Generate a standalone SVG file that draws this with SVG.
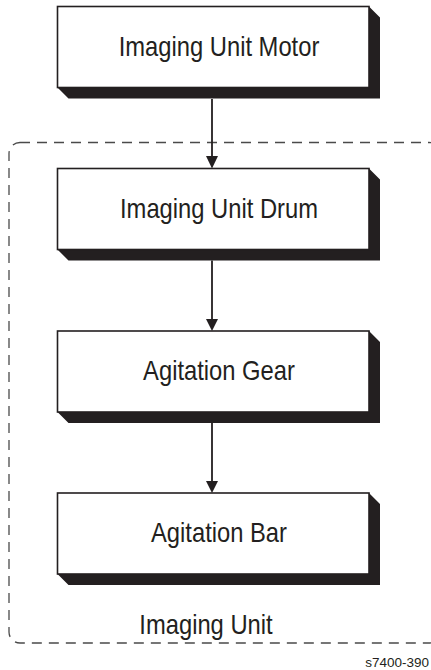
<svg xmlns="http://www.w3.org/2000/svg" width="431" height="670" viewBox="0 0 431 670">
  <style>
    .box { fill: #ffffff; stroke: #231f20; stroke-width: 1.6; }
    .shadow { fill: #231f20; }
    .lbl { font-family: "Liberation Sans", Arial, sans-serif; font-size: 27px; fill: #231f20; text-anchor: middle; }
    .conn { stroke: #231f20; stroke-width: 1.8; fill: none; }
    .head { fill: #231f20; }
  </style>
  <rect width="431" height="670" fill="#ffffff"/>
  <g id="imaging-unit-group">
    <rect x="9" y="142.5" width="431" height="500.5" rx="11" ry="11" fill="none" stroke="#4a4a4a" stroke-width="1.3" stroke-dasharray="10 7"/>
    <text class="lbl" transform="translate(206,634) scale(0.88,1)">Imaging Unit</text>
  </g>
  <g id="connectors">
    <line class="conn" x1="212" y1="99" x2="212" y2="158"/>
    <polygon class="head" points="206,156 218,156 212,168.5"/>
    <line class="conn" x1="212" y1="260.5" x2="212" y2="320"/>
    <polygon class="head" points="206,319 218,319 212,331"/>
    <line class="conn" x1="212" y1="423" x2="212" y2="482"/>
    <polygon class="head" points="206,481 218,481 212,493"/>
  </g>
  <g id="node-motor">
    <polygon class="shadow" points="57.5,87.5 369,87.5 369,6.5 380,17.5 380,98.5 68.5,98.5"/>
    <rect class="box" x="57.5" y="6.5" width="311.5" height="81"/>
    <text class="lbl" transform="translate(219,55.5) scale(0.88,1)">Imaging Unit Motor</text>
  </g>
  <g id="node-drum">
    <polygon class="shadow" points="57.5,249.5 369,249.5 369,168.5 380,179.5 380,260.5 68.5,260.5"/>
    <rect class="box" x="57.5" y="168.5" width="311.5" height="81"/>
    <text class="lbl" transform="translate(219,217.5) scale(0.88,1)">Imaging Unit Drum</text>
  </g>
  <g id="node-gear">
    <polygon class="shadow" points="57.5,412 369,412 369,331 380,342 380,423 68.5,423"/>
    <rect class="box" x="57.5" y="331" width="311.5" height="81"/>
    <text class="lbl" transform="translate(219,380) scale(0.88,1)">Agitation Gear</text>
  </g>
  <g id="node-bar">
    <polygon class="shadow" points="57.5,574 369,574 369,493 380,504 380,585 68.5,585"/>
    <rect class="box" x="57.5" y="493" width="311.5" height="81"/>
    <text class="lbl" transform="translate(219,542) scale(0.88,1)">Agitation Bar</text>
  </g>
  <text x="429" y="666.5" text-anchor="end" font-family="Liberation Sans, Arial, sans-serif" font-size="13.5" fill="#231f20">s7400-390</text>
</svg>
